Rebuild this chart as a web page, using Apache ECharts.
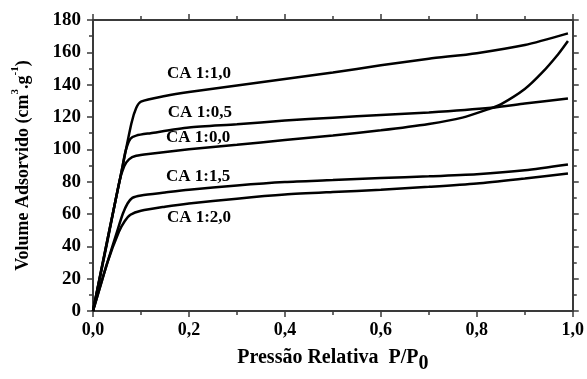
<!DOCTYPE html>
<html>
<head>
<meta charset="utf-8">
<script src="https://cdn.jsdelivr.net/npm/echarts@6/dist/echarts.min.js"></script>
<style>
  html, body { margin: 0; padding: 0; background: #fff; }
  #chart { width: 587px; height: 379px; }
</style>
</head>
<body>
<div id="chart"></div>
<script>
// isotherms: [P/P0, volume]
const ca10 = [[0,0],[0.03,44],[0.06,87],[0.08,116],[0.09,125.5],[0.1,129.5],[0.15,133],[0.2,135.5],[0.3,139.5],[0.4,143.5],[0.5,147.5],[0.6,152],[0.7,156],[0.8,159.5],[0.9,164.5],[0.99,171.7]]
const ca05 = [[0,0],[0.03,44],[0.06,87],[0.068,99],[0.078,106.5],[0.09,108.5],[0.12,110],[0.2,113.5],[0.3,115.5],[0.4,117.8],[0.5,119.6],[0.6,121.2],[0.7,122.8],[0.83,125.7],[0.9,128.3],[0.99,131.5]]
const ca00 = [[0,0],[0.03,43],[0.055,80],[0.065,89.5],[0.075,93.8],[0.09,96],[0.12,97.3],[0.2,100],[0.3,102.8],[0.4,105.8],[0.5,108.6],[0.6,111.8],[0.7,115.7],[0.77,119.6],[0.825,124.9],[0.85,127.8],[0.9,137.3],[0.936,147.4],[0.97,159],[0.99,167]]
const ca15 = [[0,0],[0.03,30],[0.05,49],[0.062,60],[0.072,66.5],[0.082,70],[0.1,71.5],[0.15,73.3],[0.2,75],[0.3,77.7],[0.4,79.8],[0.5,81],[0.6,82.3],[0.7,83.3],[0.8,84.6],[0.9,87],[0.99,90.6]]
const ca20 = [[0,0],[0.03,30],[0.054,49],[0.066,55.5],[0.078,59.5],[0.1,62],[0.15,64.5],[0.2,66.5],[0.3,69.5],[0.4,72],[0.5,73.6],[0.6,75],[0.7,76.8],[0.8,78.9],[0.9,82],[0.99,85]]

const seriesNames = ['CA 1:1,0', 'CA 1:0,5', 'CA 1:0,0', 'CA 1:1,5', 'CA 1:2,0']
// where each series label sits (left edge x, centre y) in data units
const labelAt = [[0.154, 146.8], [0.156, 123], [0.152, 107.4], [0.152, 83], [0.154, 57.8]]

const xTicks = [0, 0.2, 0.4, 0.6, 0.8, 1.0]
const yTicks = [0, 20, 40, 60, 80, 100, 120, 140, 160, 180]

const font = 'Liberation Serif'
const axisColor = '#3a3a3a'

const chart = echarts.init(document.getElementById('chart'))

const baseAxis = {
  axisLine: { show: true, onZero: false, lineStyle: { color: axisColor, width: 2 } },
  axisTick: { show: true, inside: false, length: 6, lineStyle: { color: axisColor, width: 1.5 } },
  minorTick: { show: true, splitNumber: 2, length: 4, lineStyle: { color: axisColor, width: 1.5 } },
  splitLine: { show: false }
}

const allData = [ca10, ca05, ca00, ca15, ca20]

const option = {
  animation: false,
  grid: { left: 93, right: 14, top: 20, bottom: 56 },
  xAxis: [
    {
      ...baseAxis,
      type: 'value',
      min: xTicks[0], max: xTicks[xTicks.length - 1], interval: 0.2,
      axisLabel: {
        margin: 10, color: '#000', fontFamily: font, fontWeight: 'bold', fontSize: 18,
        formatter: v => v.toFixed(1).replace('.', ',')
      },
      name: 'Pressão Relativa  P/P{sub|0}',
      nameLocation: 'middle',
      nameGap: 31,
      nameTextStyle: {
        color: '#000', fontFamily: font, fontWeight: 'bold', fontSize: 20,
        rich: { sub: { fontFamily: font, fontWeight: 'bold', fontSize: 20, padding: [12, 0, 0, 0] } }
      }
    },
    {
      ...baseAxis,
      type: 'value', position: 'top',
      min: xTicks[0], max: xTicks[xTicks.length - 1], interval: 0.2,
      axisLabel: { show: false }
    }
  ],
  yAxis: [
    {
      ...baseAxis,
      type: 'value',
      min: yTicks[0], max: yTicks[yTicks.length - 1], interval: 20,
      axisLabel: { margin: 12, color: '#000', fontFamily: font, fontWeight: 'bold', fontSize: 19 },
      name: 'Volume Adsorvido (cm{sup|3}.g{sup|-1})',
      nameLocation: 'middle',
      nameGap: 56,
      nameTextStyle: {
        color: '#000', fontFamily: font, fontWeight: 'bold', fontSize: 18,
        rich: { sup: { fontFamily: font, fontWeight: 'bold', fontSize: 11, padding: [0, 0, 16, 0] } }
      }
    },
    {
      ...baseAxis,
      type: 'value', position: 'right',
      min: yTicks[0], max: yTicks[yTicks.length - 1], interval: 20,
      axisLabel: { show: false }
    }
  ],
  series: allData.map((d, i) => ({
    name: seriesNames[i],
    type: 'line',
    data: d,
    showSymbol: false,
    smooth: 0.25,
    lineStyle: { color: '#000', width: 2.5 },
    markPoint: {
      symbol: 'circle', symbolSize: 0,
      label: {
        show: true, position: 'right', distance: 0,
        color: '#000', fontFamily: font, fontWeight: 'bold', fontSize: 17,
        formatter: seriesNames[i]
      },
      data: [{ coord: labelAt[i] }]
    }
  }))
}

chart.setOption(option)
</script>
</body>
</html>
